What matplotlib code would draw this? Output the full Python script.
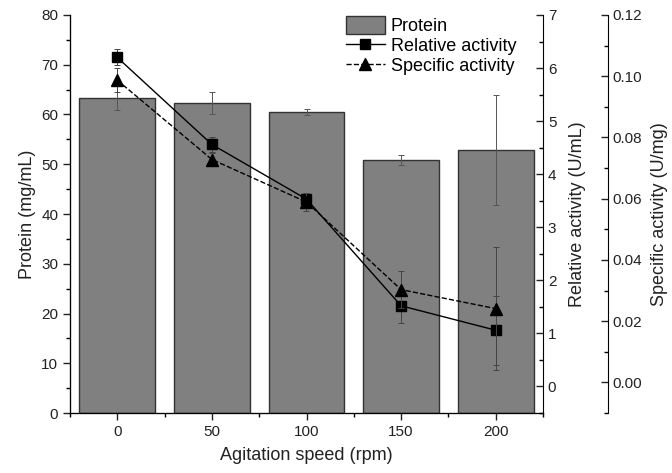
import matplotlib.pyplot as plt
from matplotlib.ticker import MultipleLocator
from matplotlib.lines import Line2D
from matplotlib.patches import Patch

plt.rcParams['font.family'] = ['Liberation Sans', 'DejaVu Sans']

# datos
speed = [0, 50, 100, 150, 200]
protein = [63.4, 62.4, 60.5, 50.8, 52.9]
protein_err = [2.4, 2.2, 0.6, 1.0, 11.1]
rel_act = [6.2, 4.56, 3.53, 1.52, 1.06]
rel_err = [0.15, 0.15, 0.12, 0.32, 0.65]
spec_act = [0.0987, 0.0728, 0.0589, 0.0303, 0.0241]
spec_err = [0.004, 0.002, 0.003, 0.006, 0.02]

fig = plt.figure(figsize=(6.72, 4.73), dpi=100)
ax = fig.add_axes([70/672, 1-413/473, (543-70)/672, (413-15)/473])

ax.bar(speed, protein, width=40, color='#808080', edgecolor='#333333', linewidth=1.0)
ax.errorbar(speed, protein, yerr=protein_err, fmt='none', ecolor='#555555', elinewidth=0.7, capsize=2, capthick=0.7)

ax.set_xlim(-25, 225)
ax.set_ylim(0, 80)
ax.xaxis.set_major_locator(MultipleLocator(50))
ax.xaxis.set_minor_locator(MultipleLocator(25))
ax.yaxis.set_major_locator(MultipleLocator(10))
ax.yaxis.set_minor_locator(MultipleLocator(5))
ax.spines['top'].set_visible(False)
ax.spines['right'].set_visible(False)
ax.tick_params(axis='both', which='major', direction='out', length=5, width=1, labelsize=11, colors='#222222')
ax.tick_params(axis='both', which='minor', direction='out', length=3, width=1)
ax.set_xlabel('Agitation speed (rpm)', fontsize=13, color='#222222', labelpad=6)
ax.set_ylabel('Protein (mg/mL)', fontsize=13, color='#222222', labelpad=4)

# eje de actividad relativa
ax2 = ax.twinx()
ax2.set_ylim(-0.5, 7)
ax2.errorbar(speed, rel_act, yerr=rel_err, color='black', linestyle='-', linewidth=1,
             marker='s', markersize=7, ecolor='#444444', elinewidth=0.7, capsize=2, capthick=0.7)
ax2.yaxis.set_major_locator(MultipleLocator(1))
ax2.yaxis.set_minor_locator(MultipleLocator(0.5))
ax2.spines['top'].set_visible(False)
ax2.tick_params(axis='y', which='major', direction='in', length=5, width=1, labelsize=11, colors='#222222')
ax2.tick_params(axis='y', which='minor', direction='in', length=3, width=1)
ax2.set_ylabel('Relative activity (U/mL)', fontsize=13, color='#222222', labelpad=9)

# eje de actividad especifica
ax3 = ax.twinx()
ax3.spines['right'].set_position(('outward', 46.8))
ax3.set_ylim(-0.01, 0.12)
ax3.errorbar(speed, spec_act, yerr=spec_err, color='black', linestyle='--', linewidth=1,
             marker='^', markersize=8, ecolor='#444444', elinewidth=0.7, capsize=2, capthick=0.7)
ax3.yaxis.set_major_locator(MultipleLocator(0.02))
ax3.yaxis.set_minor_locator(MultipleLocator(0.01))
ax3.yaxis.set_major_formatter(plt.FormatStrFormatter('%.2f'))
ax3.spines['top'].set_visible(False)
ax3.tick_params(axis='y', which='major', direction='in', length=5, width=1, labelsize=11, colors='#222222')
ax3.tick_params(axis='y', which='minor', direction='in', length=3, width=1)
ax3.set_ylabel('Specific activity (U/mg)', fontsize=13, color='#222222', labelpad=6)

handles = [Patch(facecolor='#808080', edgecolor='#333333'),
           Line2D([], [], color='black', linestyle='-', linewidth=1, marker='s', markersize=7),
           Line2D([], [], color='black', linestyle='--', linewidth=1, marker='^', markersize=8)]
ax3.legend(handles, ['Protein', 'Relative activity', 'Specific activity'],
           loc='upper left', bbox_to_anchor=(333/672, 1-3/473), bbox_transform=fig.transFigure,
           frameon=False, fontsize=13, handlelength=2.2, handleheight=1.2, handletextpad=0.3,
           labelspacing=0.05, borderpad=0.2)

fig.savefig('out.png', dpi=100)
